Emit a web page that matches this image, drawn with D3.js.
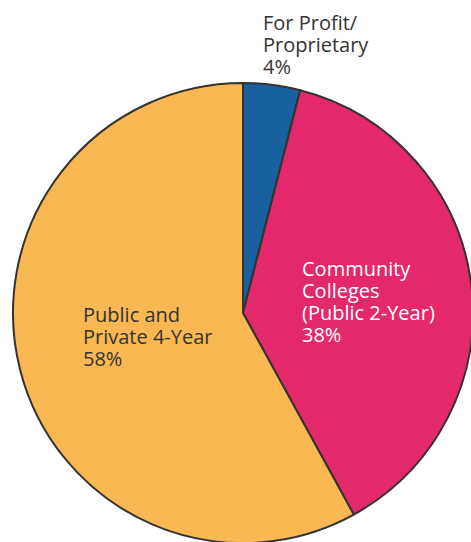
<!DOCTYPE html>
<html>
<head>
<meta charset="utf-8">
<script src="https://cdn.jsdelivr.net/npm/d3@7"></script>
<style>
  html, body { margin: 0; padding: 0; background: #fff; }
  svg { display: block; }
</style>
</head>
<body>
<svg id="chart" width="471" height="542"></svg>
<script>
// Share of students by institution type
const categories = ["For Profit/ Proprietary", "Community Colleges (Public 2-Year)", "Public and Private 4-Year"];
const shares = [4, 38, 58];
const labelLines = [
  ["For Profit/", "Proprietary", "4%"],
  ["Community", "Colleges", "(Public 2-Year)", "38%"],
  ["Public and", "Private 4-Year", "58%"]
];
const colors = ["#17619f", "#e3286b", "#fab852"];
const textColors = ["#333333", "#ffffff", "#333333"];

const svg = d3.select("#chart");
const cx = 243, cy = 313, r = 230;

const pie = d3.pie().sort(null).value(d => d.value);
const arcs = pie(categories.map((c, i) => ({ name: c, value: shares[i], i })));
const arc = d3.arc().innerRadius(0).outerRadius(r);

const g = svg.append("g").attr("transform", `translate(${cx},${cy})`);

g.selectAll("path.slice")
  .data(arcs)
  .join("path")
  .attr("class", "slice")
  .attr("d", arc)
  .attr("fill", d => colors[d.data.i])
  .attr("stroke", "#333")
  .attr("stroke-width", 2)
  .attr("stroke-linejoin", "round");

// Label anchor positions (baseline of the first line of each block)
const labelPos = [
  { x: 263, y: 30 },
  { x: 302, y: 276 },
  { x: 83, y: 322 }
];
const lineHeight = 22;

const labels = svg.append("g")
  .attr("font-family", "'Open Sans', 'Noto Sans', sans-serif")
  .attr("font-size", 20);

labelLines.forEach((lines, i) => {
  const t = labels.append("text")
    .attr("x", labelPos[i].x)
    .attr("y", labelPos[i].y)
    .attr("fill", textColors[i]);
  lines.forEach((ln, k) => {
    t.append("tspan")
      .attr("x", labelPos[i].x)
      .attr("y", labelPos[i].y + k * lineHeight)
      .text(ln);
  });
});
</script>
</body>
</html>
